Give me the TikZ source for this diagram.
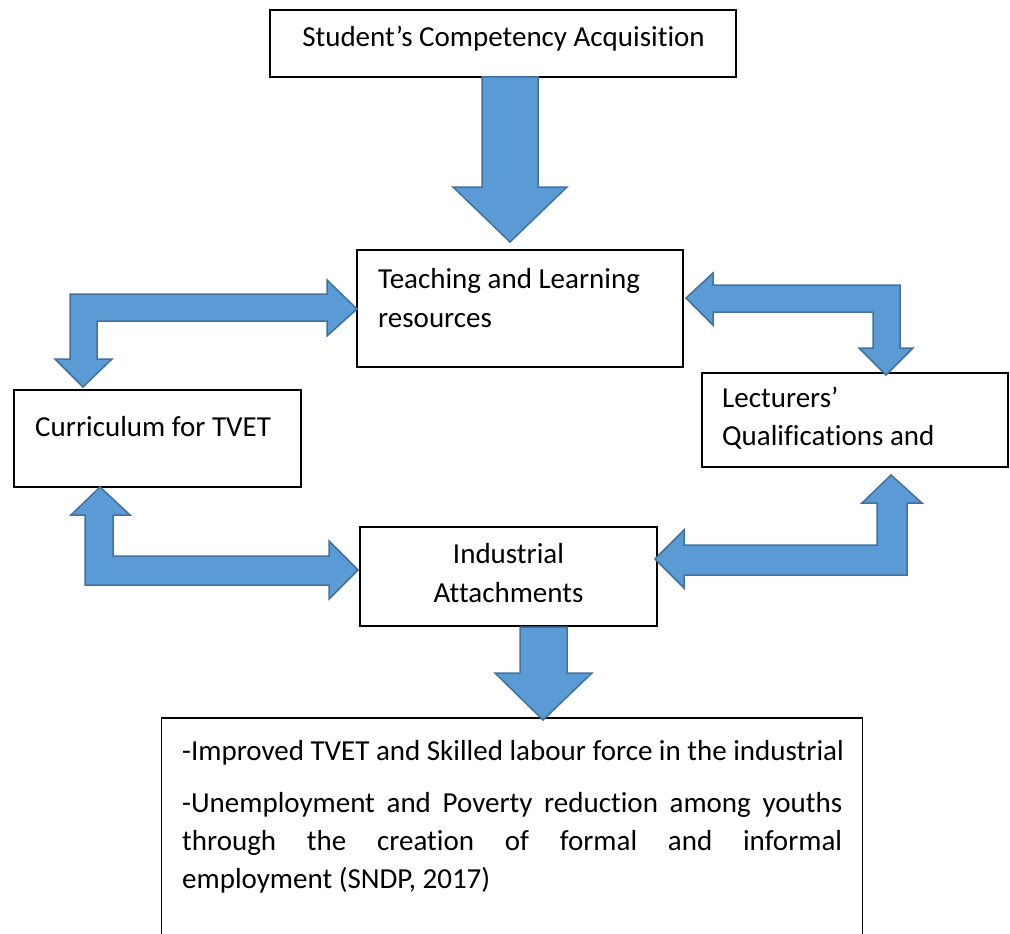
\documentclass[tikz,border=0pt]{standalone}
\usepackage{fontspec}
\setmainfont[Ligatures=NoCommon]{Carlito}
\begin{document}
\begin{tikzpicture}[x=1pt,y=-1pt,
  box/.style={draw=black,line width=1.3pt,fill=white,inner sep=0pt},
  txt/.style={inner sep=0pt,font=\fontsize{29}{38}\selectfont},
  blockarrow/.style={fill=arrowfill,draw=arrowline,line width=1.5pt,line join=miter}]
\definecolor{arrowfill}{HTML}{5B9BD5}
\definecolor{arrowline}{HTML}{41719C}
\useasboundingbox (0,0) rectangle (1010,934);
\clip (0,0) rectangle (1010,934);

% boxes
\node[box,minimum width=466pt,minimum height=67pt] (student) at (503,43.5) {};
\node[box,minimum width=326pt,minimum height=117pt] (teach) at (520,308.5) {};
\node[box,minimum width=287pt,minimum height=97pt] (curr) at (157.5,438.5) {};
\node[box,minimum width=306pt,minimum height=94pt] (lect) at (855,420) {};
\node[box,minimum width=297pt,minimum height=99pt] (indus) at (508.5,576.5) {};
\node[box,minimum width=701pt,minimum height=240pt] (outcome) at (512,838) {};

% texts
\node[txt,anchor=base] (tstudent) at (503.5,47) {Student’s Competency Acquisition};
\node[txt,anchor=base west] (tteach1) at (378,288) {Teaching and Learning};
\node[txt,anchor=base west] (tteach2) at (378,327) {resources};
\node[txt,anchor=base west] (tcurr) at (35,436) {Curriculum for TVET};
\node[txt,anchor=base west] (tlect1) at (722,407) {Lecturers’};
\node[txt,anchor=base west] (tlect2) at (722,445) {Qualifications and};
\node[txt,anchor=base] (tind1) at (508.5,563) {Industrial};
\node[txt,anchor=base] (tind2) at (508.5,602) {Attachments};
\node[txt,anchor=base west] (tout1) at (182,760) {-Improved TVET and Skilled labour force in the industrial};
\node[txt,anchor=base west] (tout2) at (182,812) {\makebox[660pt][s]{-Unemployment and Poverty reduction among youths}};
\node[txt,anchor=base west] (tout3) at (182,850) {\makebox[660pt][s]{through the creation of formal and informal}};
\node[txt,anchor=base west] (tout4) at (182,888) {employment (SNDP, 2017)};

% block arrows
\draw[blockarrow] (482,77) -- (538,77) -- (538,187) -- (567,187) -- (510,242)
  -- (453,187) -- (482,187) -- cycle;
\draw[blockarrow] (520,627) -- (567,627) -- (567,673) -- (592,673) -- (543,720)
  -- (495,673) -- (520,673) -- cycle;
\draw[blockarrow] (70,294) -- (327,294) -- (327,280) -- (357,309) -- (327,336)
  -- (327,321) -- (97,321) -- (97,359) -- (112,359) -- (83,387) -- (55,359)
  -- (70,359) -- cycle;
\draw[blockarrow] (900,285) -- (900,348) -- (913,348) -- (886,375) -- (859,348)
  -- (873,348) -- (873,312) -- (713,312) -- (713,325) -- (686,298) -- (713,273)
  -- (713,285) -- cycle;
\draw[blockarrow] (85,585) -- (85,515) -- (71,515) -- (100,487) -- (130,515)
  -- (113,515) -- (113,556) -- (329,556) -- (329,541) -- (358,570) -- (329,599)
  -- (329,585) -- cycle;
\draw[blockarrow] (907,575) -- (907,503) -- (922,503) -- (891,475) -- (862,503)
  -- (877,503) -- (877,545) -- (684,545) -- (684,530) -- (655,559) -- (684,588)
  -- (684,575) -- cycle;
\end{tikzpicture}
\end{document}
